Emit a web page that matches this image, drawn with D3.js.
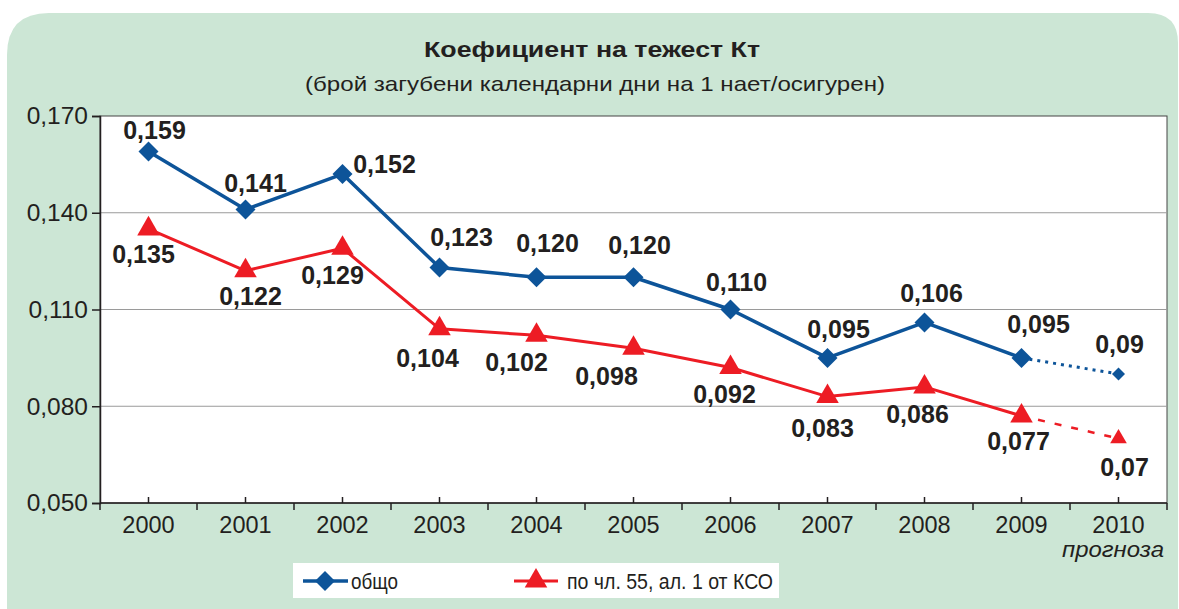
<!DOCTYPE html>
<html>
<head>
<script src="https://cdn.jsdelivr.net/npm/d3@7"></script>
<meta charset="utf-8">
<title>Коефициент на тежест Кт</title>
<style>
  body { margin: 0; background: #fff; font-family: "Liberation Sans", Arial, sans-serif; }
  svg { display: block; }
  .grid line { stroke: #9a9a9a; stroke-width: 1; }
  .axis text { fill: #231f20; }
  .val { font-weight: bold; font-size: 25px; fill: #231f20; text-anchor: middle; }
</style>
</head>
<body>
<script>
var years = ['2000','2001','2002','2003','2004','2005','2006','2007','2008','2009','2010'];
var total = [0.159, 0.141, 0.152, 0.123, 0.120, 0.120, 0.110, 0.095, 0.106, 0.095, 0.09];
var art55 = [0.135, 0.122, 0.129, 0.104, 0.102, 0.098, 0.092, 0.083, 0.086, 0.077, 0.07];
var totalLabels = ['0,159','0,141','0,152','0,123','0,120','0,120','0,110','0,095','0,106','0,095','0,09'];
var art55Labels = ['0,135','0,122','0,129','0,104','0,102','0,098','0,092','0,083','0,086','0,077','0,07'];
var yTicks = [0.050, 0.080, 0.110, 0.140, 0.170];
var yTickLabels = ['0,050','0,080','0,110','0,140','0,170'];
var forecastFrom = 9; // index of last actual year

// label offsets relative to the point (layout only)
var totalOff = [[6,-21],[10,-26],[42,-10],[22,-30],[11,-34],[6,-32],[6,-27],[11,-29],[7,-29],[17,-34],[1,-30]];
var art55Off = [[-5,25],[5,25],[-10,27],[-12,29],[-20,27],[-27,28],[-6,27],[-5,32],[-7,27],[-3,25],[6,29]];

var W = 1179, H = 609;
var blue = '#0d5499', red = '#ed1c24', ink = '#231f20';
var m = {left: 100, right: 12, top: 116, bottom: 106};

var svg = d3.select('body').append('svg').attr('width', W).attr('height', H);

// green panel with rounded top corners
svg.append('path')
  .attr('d', 'M7,650 L7,55 Q7,13 49,13 L1148,13 Q1178,13 1178,43 L1178,650 Z')
  .attr('fill', '#cce6d5');

svg.append('text').attr('x', 592).attr('y', 57).attr('text-anchor', 'middle')
  .attr('textLength', 336).attr('lengthAdjust', 'spacingAndGlyphs')
  .style('font-size', '22px').style('font-weight', 'bold').style('fill', ink)
  .text('Коефициент на тежест Кт');
svg.append('text').attr('x', 595).attr('y', 91).attr('text-anchor', 'middle')
  .attr('textLength', 580).attr('lengthAdjust', 'spacingAndGlyphs')
  .style('font-size', '21px').style('fill', ink)
  .text('(брой загубени календарни дни на 1 нает/осигурен)');

var x = d3.scaleBand().domain(years).range([m.left, W - m.right]);
var y = d3.scaleLinear().domain([0.050, 0.170]).range([H - m.bottom, m.top]);
var cx = function(i){ return x(years[i]) + x.bandwidth() / 2; };

svg.append('rect').attr('x', m.left).attr('y', m.top)
  .attr('width', W - m.left - m.right).attr('height', H - m.top - m.bottom)
  .attr('fill', '#fff').attr('stroke', '#444').attr('stroke-width', 1);

svg.append('g').attr('class', 'grid').selectAll('line')
  .data(yTicks.slice(1, -1)).enter().append('line')
  .attr('x1', m.left).attr('x2', W - m.right)
  .attr('y1', function(d){ return y(d); }).attr('y2', function(d){ return y(d); });

// y axis
var yAxis = d3.axisLeft(y).tickValues(yTicks).tickSize(8).tickPadding(4)
  .tickFormat(function(d, i){ return yTickLabels[i]; });
var gy = svg.append('g').attr('class', 'axis').attr('transform', 'translate(' + m.left + ',0)').call(yAxis);
gy.selectAll('text').style('font-size', '24.5px').style('font-family', '"Liberation Sans", Arial, sans-serif');
gy.selectAll('line, path').attr('stroke', ink).attr('stroke-width', 1.5);

// x axis: labels at band centres, inner ticks at centres, outer ticks at boundaries
var xb = H - m.bottom;
var gx = svg.append('g').attr('class', 'axis');
gx.append('line').attr('x1', m.left).attr('x2', W - m.right).attr('y1', xb).attr('y2', xb)
  .attr('stroke', ink).attr('stroke-width', 1.5);
gx.selectAll('.tc').data(years).enter().append('line')
  .attr('x1', function(d, i){ return cx(i); }).attr('x2', function(d, i){ return cx(i); })
  .attr('y1', xb).attr('y2', xb - 6).attr('stroke', ink).attr('stroke-width', 1.5);
gx.selectAll('.tb').data(years.concat(['end'])).enter().append('line')
  .attr('x1', function(d, i){ return m.left + i * x.bandwidth(); })
  .attr('x2', function(d, i){ return m.left + i * x.bandwidth(); })
  .attr('y1', xb).attr('y2', xb + 7).attr('stroke', ink).attr('stroke-width', 1.5);
gx.selectAll('.lbl').data(years).enter().append('text')
  .attr('x', function(d, i){ return cx(i); }).attr('y', 533)
  .attr('text-anchor', 'middle').style('font-size', '23.5px').text(function(d){ return d; });
svg.append('text').attr('x', 1164).attr('y', 557).attr('text-anchor', 'end')
  .attr('textLength', 102).attr('lengthAdjust', 'spacingAndGlyphs')
  .style('font-size', '22px').style('font-style', 'italic').style('fill', ink).text('прогноза');

function diamond(r) {
  return 'M0,' + (-r) + 'L' + r + ',0L0,' + r + 'L' + (-r) + ',0Z';
}

function drawSeries(vals, color, symbolFn, bigSize, smallSize, dash, width) {
  var line = d3.line().x(function(d){ return cx(d.i); }).y(function(d){ return y(d.v); });
  var pts = vals.map(function(v, i){ return {v: v, i: i}; });
  svg.append('path').datum(pts.slice(0, forecastFrom + 1)).attr('d', line)
    .attr('fill', 'none').attr('stroke', color).attr('stroke-width', width).attr('stroke-linejoin', 'round');
  svg.append('path').datum(pts.slice(forecastFrom)).attr('d', line)
    .attr('fill', 'none').attr('stroke', color).attr('stroke-width', width - 0.5)
    .attr('stroke-dasharray', dash);
  svg.selectAll(null).data(pts).enter().append('path')
    .attr('d', function(d){ return symbolFn(d.i > forecastFrom ? smallSize : bigSize); })
    .attr('transform', function(d){ return 'translate(' + cx(d.i) + ',' + y(d.v) + ')'; })
    .attr('fill', color);
}

var tri = function(s){ return d3.symbol().type(d3.symbolTriangle).size(s)(); };

drawSeries(total, blue, diamond, 10, 6.5, '3,5', 3.5);
drawSeries(art55, red, tri, 220, 120, '7,10', 3);

svg.selectAll('.tl').data(total).enter().append('text').attr('class', 'val')
  .attr('x', function(d, i){ return cx(i) + totalOff[i][0]; })
  .attr('y', function(d, i){ return y(d) + totalOff[i][1]; })
  .attr('dy', '0.35em').text(function(d, i){ return totalLabels[i]; });
svg.selectAll('.rl').data(art55).enter().append('text').attr('class', 'val')
  .attr('x', function(d, i){ return cx(i) + art55Off[i][0]; })
  .attr('y', function(d, i){ return y(d) + art55Off[i][1]; })
  .attr('dy', '0.35em').text(function(d, i){ return art55Labels[i]; });

// legend
var lg = svg.append('g');
lg.append('rect').attr('x', 293).attr('y', 563).attr('width', 486).attr('height', 35).attr('fill', '#fff');
lg.append('line').attr('x1', 303).attr('x2', 348).attr('y1', 581).attr('y2', 581).attr('stroke', blue).attr('stroke-width', 3.5);
lg.append('path').attr('d', diamond(10)).attr('transform', 'translate(325,581)').attr('fill', blue);
lg.append('text').attr('x', 351).attr('y', 589).attr('textLength', 47).attr('lengthAdjust', 'spacingAndGlyphs')
  .style('font-size', '22px').style('fill', ink).text('общо');
lg.append('line').attr('x1', 514).attr('x2', 558).attr('y1', 581).attr('y2', 581).attr('stroke', red).attr('stroke-width', 3);
lg.append('path').attr('d', tri(220)).attr('transform', 'translate(536,581)').attr('fill', red);
lg.append('text').attr('x', 567).attr('y', 589).attr('textLength', 206).attr('lengthAdjust', 'spacingAndGlyphs')
  .style('font-size', '22px').style('fill', ink).text('по чл. 55, ал. 1 от КСО');
</script>
</body>
</html>
